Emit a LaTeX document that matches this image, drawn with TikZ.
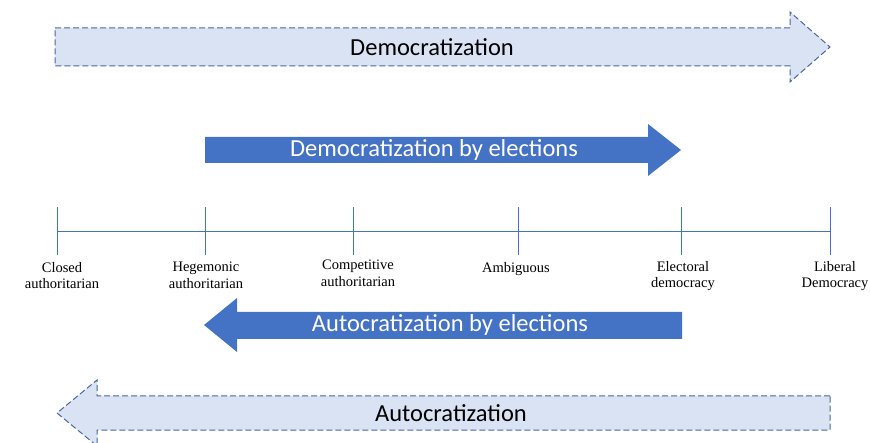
\documentclass[tikz,border=0pt]{standalone}
\usepackage{fontspec}
\setmainfont{Liberation Serif}
\newfontfamily\calib{Carlito}
\definecolor{lightfill}{HTML}{DAE3F3}
\definecolor{dashline}{HTML}{4A66A0}
\definecolor{solidblue}{HTML}{4472C4}
\begin{document}
\begin{tikzpicture}[x=1pt,y=-1pt,
  outlinearrow/.style={fill=lightfill,draw=dashline,line width=1pt,dash pattern=on 6pt off 3pt},
  solidarrow/.style={fill=solidblue,draw=none},
  bigtext/.style={font=\calib\fontsize{24.5}{27}\selectfont,inner sep=0pt},
  labeltext/.style={font=\fontsize{14.5}{16.5}\selectfont,align=center,inner sep=0pt,anchor=north},
  axisline/.style={draw=solidblue,line width=0.8pt}]
\useasboundingbox (0,0) rectangle (870,443);
% Top dashed arrow
\draw[outlinearrow] (55,28) -- (790,28) -- (790,12) -- (830,47) -- (790,82) -- (790,66) -- (55,66) -- cycle;
\node[bigtext] (demo) at (432,47) {Democratization};
% Democratization by elections
\fill[solidarrow] (205,137) -- (648,137) -- (648,124) -- (681,150) -- (648,176) -- (648,163) -- (205,163) -- cycle;
\node[bigtext,text=white] (demoel) at (434,150) {Democratization by elections};
% Axis
\coordinate (t1) at (57,231);
\coordinate (t2) at (205,231);
\coordinate (t3) at (353,231);
\coordinate (t4) at (518,231);
\coordinate (t5) at (681,231);
\coordinate (t6) at (830,231);
\draw[axisline] (t1) -- (t6);
\foreach \t in {t1,t2,t3,t4,t5,t6}{
  \draw[axisline] ([yshift=-24pt]\t) -- ([yshift=24pt]\t);
}
\node[labeltext] (l1) at (62,262) {Closed\\authoritarian};
\node[labeltext] (l2) at (206,262) {Hegemonic\\authoritarian};
\node[labeltext] (l3) at (358,260) {Competitive\\authoritarian};
\node[labeltext] (l4) at (516,262) {Ambiguous};
\node[labeltext] (l5) at (683,261) {Electoral\\democracy};
\node[labeltext] (l6) at (835,261) {Liberal\\Democracy};
% Autocratization by elections
\fill[solidarrow] (682,312) -- (237,312) -- (237,298) -- (204,325) -- (237,352) -- (237,339) -- (682,339) -- cycle;
\node[bigtext,text=white] (autoel) at (450,325) {Autocratization by elections};
% Bottom dashed arrow
\draw[outlinearrow] (830,396) -- (97,396) -- (97,380) -- (57,413) -- (97,446) -- (97,430) -- (830,430) -- cycle;
\node[bigtext] (auto) at (451,413) {Autocratization};
\end{tikzpicture}
\end{document}
